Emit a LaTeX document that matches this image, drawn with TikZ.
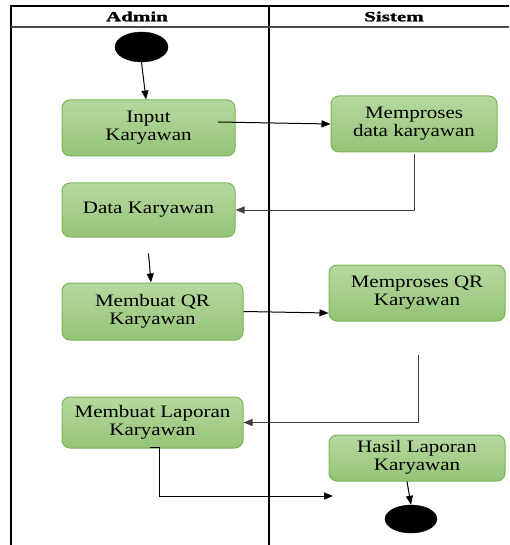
\documentclass[tikz,border=0pt]{standalone}
\usepackage{fontspec}
\setmainfont[FakeStretch=1.2]{Liberation Serif}
\newfontfamily\hdrfont[FakeStretch=1.5,FakeBold=1.5]{Liberation Serif}
\usetikzlibrary{arrows.meta,shapes.geometric}
\definecolor{boxtop}{RGB}{182,216,160}
\definecolor{boxbot}{RGB}{148,196,118}
\definecolor{boxline}{RGB}{122,180,84}
\tikzset{
  act/.style={draw=boxline, line width=1pt, rounded corners=8pt, top color=boxtop, bottom color=boxbot,
    align=center, inner sep=0pt, font=\fontsize{17.5}{18}\selectfont},
  dot/.style={ellipse, fill=black, draw=black, inner sep=0pt},
  flow/.style={line width=1pt, -{Triangle[length=9pt,width=7pt]}},
  lane/.style={line width=1.4pt, black},
  hdr/.style={font=\hdrfont\bfseries\fontsize{14}{15}\selectfont, inner sep=0pt}
}
\begin{document}
\begin{tikzpicture}[x=1pt,y=-1pt]
\useasboundingbox (0,0) rectangle (509,545);
% swimlanes
\draw[lane] (509,6) -- (11,6) -- (11,545);
\draw[lane] (269,6) -- (269,545);
\draw[line width=1.4pt, black!70] (11,27) -- (509,27);
\node[hdr] (hA) at (137,16.5) {Admin};
\node[hdr] (hS) at (394,16.5) {Sistem};
% nodes
\node[dot, minimum width=53pt, minimum height=30pt] (start) at (141.5,47) {};
\node[act, minimum width=173pt, minimum height=56pt] (in) at (148.5,128) {Input\\Karyawan};
\node[act, minimum width=166pt, minimum height=56pt] (mp) at (414,124) {Memproses\\data karyawan};
\node[act, minimum width=173pt, minimum height=54pt] (dk) at (148.5,210) {\raisebox{5pt}{Data Karyawan}};
\node[act, minimum width=181pt, minimum height=57pt] (qr) at (152.5,311.5) {Membuat QR\\Karyawan};
\node[act, minimum width=176pt, minimum height=56pt] (mq) at (417,293) {Memproses QR\\Karyawan};
\node[act, minimum width=181pt, minimum height=51pt] (lap) at (152.5,422.5) {Membuat Laporan\\Karyawan};
\node[act, minimum width=176pt, minimum height=46pt] (ha) at (417,458) {\raisebox{-3pt}{\begin{tabular}{@{}c@{}}Hasil Laporan\\Karyawan\end{tabular}}};
\node[dot, minimum width=52pt, minimum height=28pt] (end) at (411,519) {};
\coordinate (hend) at (333,496);
% connectors
\draw[flow] (start.south) -- ([xshift=-2.5pt]in.north);
\draw[flow] ([xshift=69.5pt,yshift=6pt]in.center) -- (mp.west);
\draw[flow, black!75] ([yshift=-2pt]mp.south) |- (dk.east);
\draw[flow] ([yshift=-16pt]dk.south) -- ([xshift=-1.5pt]qr.north);
\draw[flow] (qr.east) -- ([yshift=-20pt]mq.west);
\draw[flow, black!75] ([xshift=1pt,yshift=-33pt]mq.south) |- (lap.east);
\draw[flow] ([xshift=-2.5pt,yshift=1pt]lap.south) -- ++(9pt,0) |- (hend);
\draw[flow] ([xshift=-10pt]ha.south) -- (end.north);
\end{tikzpicture}
\end{document}
